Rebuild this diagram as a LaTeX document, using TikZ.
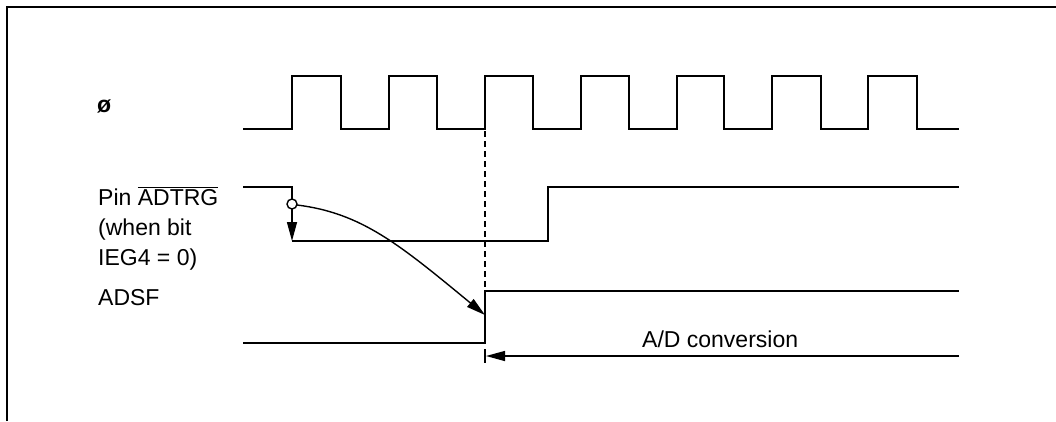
\documentclass[tikz,border=0pt]{standalone}
\usepackage{fontspec}
\setmainfont{Liberation Sans}
\usetikzlibrary{arrows.meta}
\begin{document}
\begin{tikzpicture}[x=1pt,y=-1pt,
  sig/.style={line width=2pt,line join=miter},
  thin arrow/.style={line width=1.4pt,-{Triangle[length=19pt,width=10pt]}},
  lbl/.style={anchor=base west,inner sep=0pt,font=\fontsize{23}{30}\selectfont}]
\useasboundingbox (0,0) rectangle (1056,421);
\fill[white] (0,0) rectangle (1056,421);
% frame
\draw[line width=2pt] (7,421) -- (7,7) -- (1056,7);
% labels
\node[lbl] (phi) at (97,112) {\textbf{ø}};
\node[lbl] (pin) at (98,205) {Pin $\overline{\mbox{ADTRG}}$};
\node[lbl] (when) at (98,235) {(when bit};
\node[lbl] (ieg) at (98,265) {IEG4 = 0)};
\node[lbl] (adsf) at (98,305) {ADSF};
\node[lbl] (conv) at (642,347) {A/D conversion};
% clock
\draw[sig] (243,129) -- (292,129) -- (292,76) -- (341,76) -- (341,129) -- (389,129)
  -- (389,76) -- (437,76) -- (437,129) -- (485,129) -- (485,76) -- (533,76)
  -- (533,129) -- (581,129) -- (581,76) -- (629,76) -- (629,129) -- (677,129)
  -- (677,76) -- (724,76) -- (724,129) -- (772,129) -- (772,76) -- (821,76)
  -- (821,129) -- (868,129) -- (868,76) -- (917,76) -- (917,129) -- (959,129);
% ADTRG
\coordinate (trigc) at (292,204);
\coordinate (trigLow) at (292,241);
\draw[sig] (243,187) -- (292,187) -- (292,199);
\draw[line width=1.4pt] (trigc) circle (5);
\draw[thin arrow] (292,209) -- (trigLow);
\draw[sig] (trigLow) -- (548,241) -- (548,187) -- (959,187);
% ADSF
\coordinate (start) at (485,343);
\coordinate (adsfHit) at (485,315);
\draw[sig] (243,343) -- (start) -- (485,291) -- (959,291);
% dashed
\draw[line width=1.4pt,dash pattern=on 6pt off 4pt] (485,131) -- (485,290);
% curve
\draw[thin arrow] (297,205) .. controls (362,213) and (400,245) .. (adsfHit);
% A/D conversion arrow
\coordinate (convEnd) at (959,356);
\coordinate (convStart) at (486,356);
\draw[line width=1.6pt] (485,349) -- (485,363);
\draw[thin arrow] (convEnd) -- (convStart);
\end{tikzpicture}
\end{document}
